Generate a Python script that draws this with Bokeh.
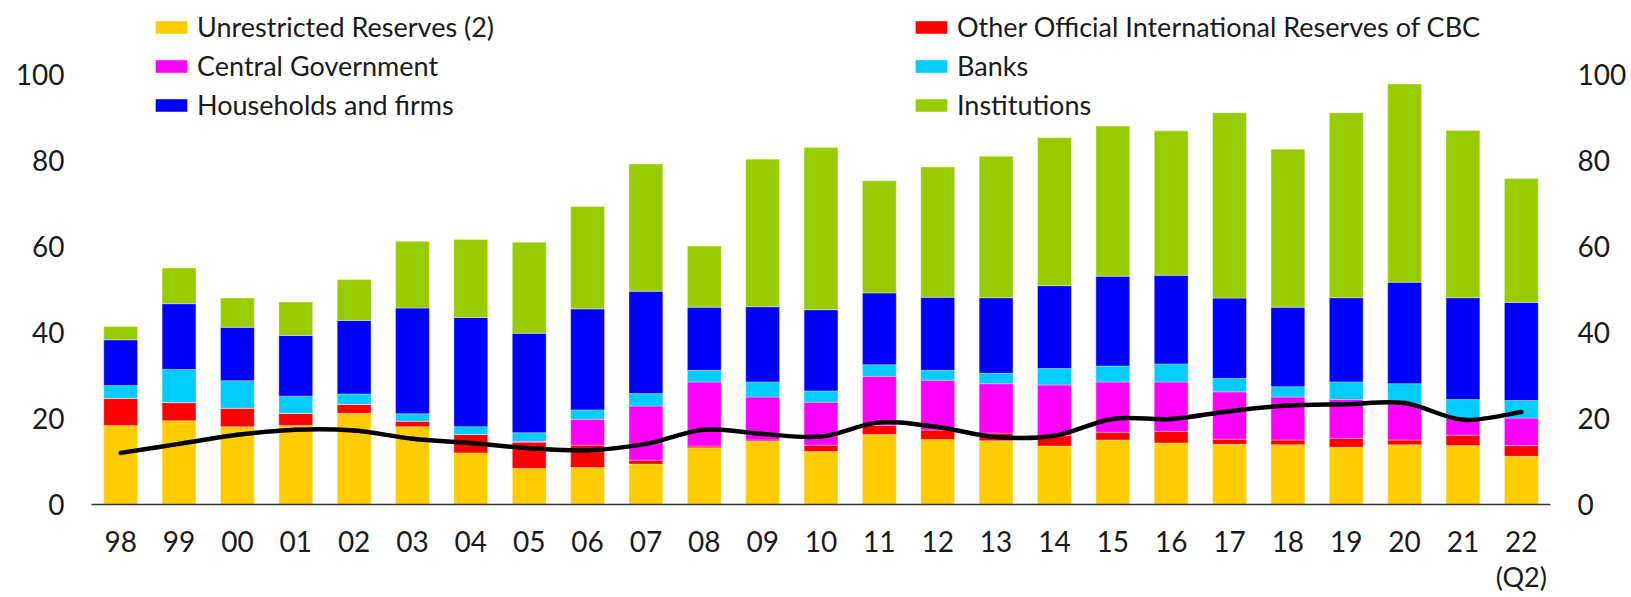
from bokeh.plotting import figure
from bokeh.models import (ColumnDataSource, Range1d, LinearAxis, FixedTicker,
                          Legend, LegendItem)
from bokeh.embed import file_html
from bokeh.resources import INLINE

years = ["98", "99", "00", "01", "02", "03", "04", "05", "06", "07", "08", "09",
         "10", "11", "12", "13", "14", "15", "16", "17", "18", "19", "20", "21", "22"]
last_year_note = "(Q2)"

unrestricted = [18.4, 19.5, 18.1, 18.4, 21.2, 18.1, 12.0, 8.4, 8.6, 9.4, 13.2, 14.7,
                12.3, 16.3, 15.1, 14.8, 13.6, 15.0, 14.3, 14.0, 13.9, 13.3, 13.9, 13.7, 11.2]
other_official = [6.3, 4.2, 4.3, 2.8, 2.1, 1.3, 4.3, 6.1, 5.2, 0.9, 0.4, 0.3,
                  1.5, 2.1, 2.2, 1.8, 2.4, 1.8, 2.7, 1.2, 1.1, 2.1, 1.1, 2.4, 2.5]
central_gov = [0.0, 0.0, 0.0, 0.0, 0.0, 0.0, 0.0, 0.2, 6.0, 12.6, 14.9, 10.0,
               10.0, 11.4, 11.6, 11.5, 11.8, 11.7, 11.5, 11.0, 10.0, 9.0, 8.4, 3.9, 6.4]
banks = [3.0, 7.7, 6.4, 4.0, 2.4, 1.7, 1.8, 2.0, 2.2, 2.9, 2.7, 3.5,
         2.6, 2.7, 2.3, 2.4, 3.8, 3.7, 4.2, 3.1, 2.4, 4.1, 4.7, 4.4, 4.1]
households = [10.6, 15.3, 12.4, 14.1, 17.1, 24.6, 25.4, 23.1, 23.5, 23.8, 14.7, 17.5,
              18.9, 16.7, 17.0, 17.6, 19.3, 20.9, 20.6, 18.7, 18.5, 19.6, 23.6, 23.7, 22.8]
institutions = [3.1, 8.3, 6.8, 7.8, 9.5, 15.5, 18.1, 21.2, 23.8, 29.6, 14.2, 34.3,
                37.7, 26.1, 30.3, 32.9, 34.4, 34.9, 33.6, 43.1, 36.7, 43.0, 46.1, 38.9, 28.8]
line_vals = [12.0, 14.1, 16.2, 17.4, 17.2, 15.3, 14.3, 13.1, 12.6, 14.1, 17.4, 16.4,
             15.8, 19.1, 18.0, 15.7, 16.0, 19.9, 19.9, 21.7, 23.0, 23.3, 23.6, 19.7, 21.5]

series_names = ["Unrestricted Reserves (2)", "Other Official International Reserves of CBC",
                "Central Government", "Banks", "Households and firms", "Institutions"]
colors = ["#FFCC00", "#FF0000", "#FF00FF", "#00CCFF", "#0000FF", "#99CC00"]
keys = ["unres", "other", "cgov", "banks", "hh", "inst"]

xs = list(range(len(years)))
src = ColumnDataSource(dict(x=xs, unres=unrestricted, other=other_official, cgov=central_gov,
                            banks=banks, hh=households, inst=institutions))

FONT = "Lato"
TXT = "#1a1a1a"

p = figure(frame_width=1459, frame_height=504, output_backend="svg", toolbar_location=None,
           x_range=Range1d(-0.5, len(years) - 0.5), y_range=Range1d(0, 117.21),
           min_border_left=91, min_border_right=0, min_border_top=0, min_border_bottom=93)
p.outline_line_color = None
p.xgrid.visible = False
p.ygrid.visible = False

renderers = p.vbar_stack(keys, x="x", width=0.58, source=src, color=colors,
                         line_color="white", line_width=0.6, line_alpha=0.6)

# smooth line through the points (Catmull-Rom style Bezier segments)
n = len(line_vals)
x0, y0, x1, y1, cx0, cy0, cx1, cy1 = [], [], [], [], [], [], [], []
for i in range(n - 1):
    pm = max(i - 1, 0)
    pp = min(i + 2, n - 1)
    x0.append(xs[i]); y0.append(line_vals[i])
    x1.append(xs[i + 1]); y1.append(line_vals[i + 1])
    cx0.append(xs[i] + (xs[i + 1] - xs[pm]) / 6.0)
    cy0.append(line_vals[i] + (line_vals[i + 1] - line_vals[pm]) / 6.0)
    cx1.append(xs[i + 1] - (xs[pp] - xs[i]) / 6.0)
    cy1.append(line_vals[i + 1] - (line_vals[pp] - line_vals[i]) / 6.0)
p.bezier(x0=x0, y0=y0, x1=x1, y1=y1, cx0=cx0, cy0=cy0, cx1=cx1, cy1=cy1,
         line_color="black", line_width=4.5, line_cap="round")

# axes
xa = p.xaxis[0]
xa.ticker = FixedTicker(ticks=xs)
xa.major_label_overrides = {i: lab for i, lab in enumerate(years)}
xa.axis_line_color = "#333333"
xa.axis_line_width = 1.6
xa.major_tick_line_color = None
xa.minor_tick_line_color = None
xa.major_tick_out = 0
xa.major_tick_in = 0
xa.major_label_standoff = 26
xa.major_label_text_font = FONT
xa.major_label_text_font_size = "28px"
xa.major_label_text_color = TXT

# second line under the last category label
xa2 = LinearAxis(ticker=FixedTicker(ticks=[xs[-1]]),
                 major_label_overrides={xs[-1]: last_year_note})
p.add_layout(xa2, "below")
xa2.axis_line_color = None
xa2.major_tick_line_color = None
xa2.minor_tick_line_color = None
xa2.major_tick_out = 0
xa2.major_tick_in = 0
xa2.major_label_standoff = 5
xa2.major_label_text_font = FONT
xa2.major_label_text_font_size = "27px"
xa2.major_label_text_color = TXT

ya = p.yaxis[0]
yticks = FixedTicker(ticks=[0, 20, 40, 60, 80, 100])
ya.ticker = yticks
ya2 = LinearAxis(ticker=yticks)
p.add_layout(ya2, "right")
for ax in [ya, ya2]:
    ax.axis_line_color = None
    ax.major_tick_line_color = None
    ax.minor_tick_line_color = None
    ax.major_tick_out = 0
    ax.major_tick_in = 0
    ax.major_label_text_font = FONT
    ax.major_label_text_font_size = "28px"
    ax.major_label_text_color = TXT
    ax.major_label_standoff = 27

# legends
def make_legend(idx, loc):
    items = [LegendItem(label=series_names[i], renderers=[renderers[i]]) for i in idx]
    lg = Legend(items=items, location=loc, orientation="vertical",
                glyph_width=40, glyph_height=16, label_height=31, spacing=6,
                label_standoff=6, padding=0, margin=0,
                border_line_color=None, background_fill_alpha=0,
                label_text_font=FONT, label_text_font_size="27px", label_text_color=TXT)
    return lg

p.add_layout(make_legend([0, 2, 4], (60, 383)), "center")
p.add_layout(make_legend([1, 3, 5], (820, 383)), "center")

open("out.html", "w").write(file_html(p, INLINE))
